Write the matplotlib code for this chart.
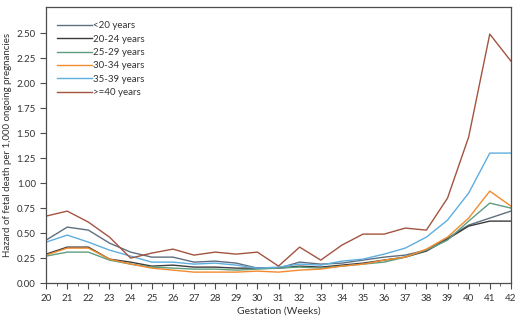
#!/usr/bin/env python3

import matplotlib.pyplot as plt
from matplotlib.ticker import MultipleLocator

plt.rcParams['font.family'] = ['Lato', 'DejaVu Sans']

weeks = list(range(20, 43))

# hazard per 1,000 ongoing pregnancies
under20 = [0.43, 0.56, 0.53, 0.40, 0.31, 0.26, 0.26, 0.21, 0.22, 0.20, 0.15, 0.15,
           0.21, 0.19, 0.20, 0.23, 0.26, 0.28, 0.33, 0.45, 0.58, 0.65, 0.72]
age20_24 = [0.29, 0.36, 0.36, 0.24, 0.21, 0.17, 0.18, 0.16, 0.16, 0.15, 0.15, 0.15,
            0.17, 0.16, 0.18, 0.20, 0.23, 0.26, 0.32, 0.44, 0.57, 0.62, 0.62]
age25_29 = [0.27, 0.31, 0.31, 0.23, 0.19, 0.16, 0.15, 0.14, 0.14, 0.13, 0.14, 0.15,
            0.16, 0.15, 0.17, 0.19, 0.21, 0.26, 0.33, 0.43, 0.62, 0.80, 0.75]
age30_34 = [0.28, 0.35, 0.35, 0.24, 0.19, 0.15, 0.13, 0.11, 0.11, 0.11, 0.12, 0.11,
            0.13, 0.14, 0.17, 0.19, 0.23, 0.26, 0.34, 0.46, 0.65, 0.92, 0.77]
age35_39 = [0.41, 0.48, 0.41, 0.33, 0.27, 0.21, 0.21, 0.19, 0.20, 0.18, 0.15, 0.16,
            0.19, 0.18, 0.22, 0.24, 0.29, 0.35, 0.46, 0.63, 0.90, 1.30, 1.30]
over40 = [0.67, 0.72, 0.61, 0.46, 0.25, 0.30, 0.34, 0.28, 0.31, 0.29, 0.31, 0.17,
          0.36, 0.23, 0.38, 0.49, 0.49, 0.55, 0.53, 0.85, 1.46, 2.49, 2.22]

labels = ['<20 years', '20-24 years', '25-29 years', '30-34 years', '35-39 years', '>=40 years']
colors = ['#5f6f80', '#3c3c3c', '#5e9e80', '#f28a2e', '#5eaee0', '#a35440']
series = [under20, age20_24, age25_29, age30_34, age35_39, over40]

fig = plt.figure(figsize=(5.24, 3.21), dpi=100)
ax = fig.add_axes([0.088, 0.118, 0.887, 0.86])

for vals, lab, c in zip(series, labels, colors):
    ax.plot(weeks, vals, color=c, lw=1.0, label=lab)

ax.set_xlim(20, 42)
ax.set_ylim(0, 2.76)
ax.set_xticks(weeks)
ax.xaxis.set_minor_locator(MultipleLocator(0.5))
ax.set_yticks([i * 0.25 for i in range(11)])
ax.set_yticklabels([f'{i * 0.25:.2f}' for i in range(11)])

txt = '#333333'
for s in ax.spines.values():
    s.set_color('#4d4d4d')
    s.set_linewidth(0.9)
ax.tick_params(which='both', direction='out', color='#4d4d4d', labelcolor=txt, labelsize=7)
ax.tick_params(which='major', length=4)
ax.tick_params(which='minor', length=2.5)

ax.set_xlabel('Gestation (Weeks)', fontsize=7.5, color=txt, labelpad=3)
ax.set_ylabel('Hazard of fetal death per 1,000 ongoing pregnancies', fontsize=7, color=txt, labelpad=3)

leg = ax.legend(loc='upper left', frameon=False, fontsize=7, handlelength=3.6,
                handletextpad=0.1, labelspacing=0.45, bbox_to_anchor=(0.005, 0.98))
for t in leg.get_texts():
    t.set_color(txt)

plt.savefig('out.png', dpi=100)
